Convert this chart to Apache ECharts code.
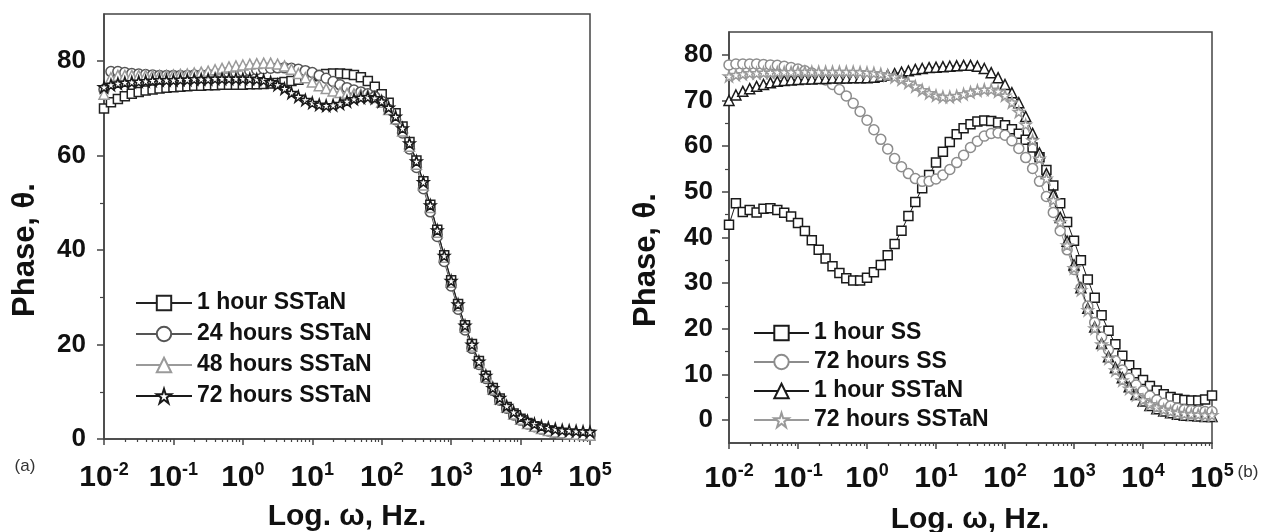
<!DOCTYPE html>
<html>
<head>
<meta charset="utf-8">
<script src="https://cdn.jsdelivr.net/npm/echarts@6/dist/echarts.min.js"></script>
<style>
  html, body { margin: 0; padding: 0; background: #fff; }
  #chart { width: 1267px; height: 532px; }
</style>
</head>
<body>
<div id="chart"></div>
<script>
// frequencies (Hz), 10 points per decade
const freq = [
  0.01, 0.01259, 0.01585, 0.01995, 0.02512, 0.03162, 0.03981, 0.05012, 0.0631, 0.07943,
  0.1, 0.1259, 0.1585, 0.1995, 0.2512, 0.3162, 0.3981, 0.5012, 0.631, 0.7943,
  1, 1.259, 1.585, 1.995, 2.512, 3.162, 3.981, 5.012, 6.31, 7.943,
  10, 12.59, 15.85, 19.95, 25.12, 31.62, 39.81, 50.12, 63.1, 79.43,
  100, 125.9, 158.5, 199.5, 251.2, 316.2, 398.1, 501.2, 631, 794.3,
  1000, 1259, 1585, 1995, 2512, 3162, 3981, 5012, 6310, 7943,
  10000, 12589, 15849, 19953, 25119, 31623, 39811, 50119, 63096, 79433,
  100000
];

// panel (a)
const a_1h = [
  70, 71.3, 72, 72.6, 73.1, 73.5, 73.8, 74, 74.2, 74.4,
  74.5, 74.6, 74.7, 74.8, 74.8, 74.9, 74.9, 75, 75, 75,
  75, 75.1, 75.1, 75.2, 75.3, 75.4, 75.6, 75.8, 76.1, 76.5,
  76.8, 77.1, 77.3, 77.4, 77.4, 77.3, 77.1, 76.6, 75.8, 74.6,
  73, 71.2, 69, 66.2, 62.9, 59, 54.6, 49.6, 44.3, 38.9,
  33.6, 28.6, 24.1, 20.1, 16.5, 13.4, 10.8, 8.6, 6.8, 5.4,
  4.3, 3.4, 2.7, 2.2, 1.8, 1.5, 1.3, 1.1, 1, 0.9,
  0.9
];
const a_24h = [
  74, 77.8, 77.8, 77.6, 77.4, 77.3, 77.2, 77.1, 77, 77,
  77, 77, 77, 77.1, 77.1, 77.2, 77.3, 77.4, 77.5, 77.6,
  77.8, 78, 78.2, 78.4, 78.5, 78.6, 78.6, 78.5, 78.3, 78,
  77.6, 77, 76.4, 75.7, 75, 74.4, 73.9, 73.5, 73.1, 72.5,
  71.5, 69.8, 67.6, 64.8, 61.4, 57.5, 53, 48.1, 42.9, 37.6,
  32.4, 27.5, 23.1, 19.2, 15.8, 12.8, 10.3, 8.2, 6.5, 5.1,
  4, 3.2, 2.6, 2.1, 1.7, 1.4, 1.2, 1.1, 1, 0.9,
  0.9
];
const a_48h = [
  73, 76.5, 77, 77, 77, 77, 77, 77, 77, 77,
  77.1, 77.2, 77.3, 77.5, 77.7, 77.9, 78.2, 78.5, 78.8, 79,
  79.2, 79.4, 79.5, 79.6, 79.6, 79.4, 79, 78.3, 77.4, 76.5,
  75.6, 74.8, 74.2, 73.7, 73.4, 73.2, 73.1, 73, 72.8, 72.3,
  71.3, 69.8, 67.8, 65.2, 62, 58.2, 53.8, 49, 43.8, 38.5,
  33.2, 28.2, 23.7, 19.7, 16.2, 13.2, 10.6, 8.4, 6.7, 5.3,
  4.2, 3.3, 2.7, 2.2, 1.8, 1.5, 1.3, 1.1, 1, 0.9,
  0.8
];
const a_72h = [
  74.5, 75, 75.3, 75.5, 75.6, 75.7, 75.8, 75.9, 76, 76,
  76, 76.1, 76.1, 76.2, 76.2, 76.2, 76.3, 76.3, 76.3, 76.3,
  76.3, 76.3, 76.2, 76, 75.6, 75, 74.2, 73.3, 72.5, 71.8,
  71.2, 70.8, 70.6, 70.7, 71, 71.5, 72, 72.3, 72.4, 72.2,
  71.5, 70.2, 68.3, 65.8, 62.6, 58.8, 54.4, 49.5, 44.2, 38.8,
  33.5, 28.5, 24, 20, 16.4, 13.4, 10.8, 8.7, 7, 5.7,
  4.6, 3.8, 3.2, 2.7, 2.4, 2.1, 1.9, 1.8, 1.7, 1.6,
  1.5
];

// panel (b)
const b_1hSS = [
  42.8, 47.5, 45.6, 46, 45.5, 46.3, 46.4, 46, 45.4, 44.6,
  43.2, 41.4, 39.4, 37.3, 35.4, 33.7, 32.2, 31.1, 30.6, 30.6,
  31.2, 32.4, 34, 36.1, 38.6, 41.5, 44.7, 47.8, 50.8, 53.7,
  56.4, 58.8, 60.9, 62.6, 63.9, 64.8, 65.4, 65.6, 65.5, 65.2,
  64.6, 63.7, 62.7, 61.4, 59.7, 57.6, 54.8, 51.4, 47.5, 43.4,
  39.3, 35, 30.8, 26.8, 23, 19.6, 16.6, 14.1, 12, 10.3,
  8.8, 7.5, 6.5, 5.7, 5.1, 4.7, 4.4, 4.3, 4.3, 4.5,
  5.4
];
const b_72hSS = [
  77.8, 78, 78, 78, 78, 77.9, 77.8, 77.7, 77.5, 77.2,
  76.9, 76.5, 76, 75.3, 74.5, 73.5, 72.4, 71, 69.4, 67.6,
  65.7, 63.6, 61.5, 59.4, 57.3, 55.5, 54, 52.9, 52.3, 52.3,
  52.8, 53.7, 54.9, 56.4, 58, 59.7, 61.1, 62.2, 62.8, 62.9,
  62.4, 61.2, 59.5, 57.5, 55.1, 52.3, 49, 45.5, 41.5, 37.3,
  33, 28.9, 25, 21.4, 18.2, 15.4, 13, 11, 9.2, 7.7,
  6.4, 5.3, 4.4, 3.7, 3.1, 2.6, 2.3, 2.1, 2, 1.9,
  1.9
];
const b_1hTaN = [
  70, 71.2, 72, 72.6, 73.1, 73.5, 73.9, 74.2, 74.4, 74.5,
  74.6, 74.7, 74.7, 74.8, 74.8, 74.9, 74.9, 74.9, 75, 75,
  75, 75.1, 75.3, 75.6, 75.9, 76.2, 76.5, 76.8, 77, 77.2,
  77.3, 77.4, 77.5, 77.6, 77.7, 77.7, 77.5, 77, 76.1, 75,
  73.5, 71.7, 69.5, 66.5, 62.8, 58.5, 54, 49.4, 44.4, 39.2,
  34, 29, 24.5, 20.4, 16.8, 13.9, 11.5, 9.3, 7.3, 5.6,
  4.2, 3.2, 2.5, 2, 1.6, 1.3, 1.1, 1, 0.9, 0.8,
  0.8
];
const b_72hTaN = [
  75.3, 75.6, 75.8, 76, 76, 76.1, 76.1, 76.2, 76.2, 76.2,
  76.3, 76.3, 76.3, 76.3, 76.3, 76.3, 76.3, 76.3, 76.3, 76.2,
  76.1, 76, 75.8, 75.5, 75.1, 74.6, 73.9, 73.1, 72.3, 71.6,
  71.1, 70.8, 70.8, 71, 71.4, 71.8, 72.2, 72.4, 72.4, 72,
  71.1, 69.6, 67.5, 64.7, 61.3, 57.3, 52.9, 48.2, 43.3, 38.3,
  33.3, 28.5, 24.1, 20.1, 16.6, 13.5, 10.9, 8.7, 6.9, 5.5,
  4.4, 3.5, 2.8, 2.3, 1.9, 1.6, 1.4, 1.3, 1.2, 1.1,
  1.1
];

// ticks
const aYTicks = [0, 20, 40, 60, 80];
const aYMinor = [10, 30, 50, 70];
const bYTicks = [0, 10, 20, 30, 40, 50, 60, 70, 80];
const bYMinor = [5, 15, 25, 35, 45, 55, 65, 75];
const decades = [-2, -1, 0, 1, 2, 3, 4];
const minorMult = [2, 3, 4, 5, 6, 7, 8, 9];

const xMinor = [];
decades.forEach(d => minorMult.forEach(m => xMinor.push(d + Math.log10(m))));

const STAR = 'path://M50,2 L61,36 L97,36 L68,57 L79,92 L50,70 L21,92 L32,57 L3,36 L39,36 Z';
const SANS = '"Liberation Sans", Arial, sans-serif';

function pairs(vals) {
  return vals.map((v, i) => [freq[i], v]);
}

function mkSeries(name, vals, grid, symbol, size, color) {
  return {
    name: name,
    type: 'line',
    xAxisIndex: grid * 2,
    yAxisIndex: grid * 2,
    data: pairs(vals),
    symbol: symbol,
    symbolSize: size,
    showAllSymbol: true,
    animation: false,
    itemStyle: { color: '#fff', borderColor: color, borderWidth: 1.5 },
    lineStyle: { color: color, width: 1 },
    emphasis: { disabled: true }
  };
}

function mainX(grid, margin) {
  return {
    type: 'log', gridIndex: grid, position: 'bottom', logBase: 10,
    min: 0.01, max: 100000, interval: 1,
    axisLine: { onZero: false, lineStyle: { color: '#444', width: 1.5 } },
    axisTick: { length: 6, lineStyle: { color: '#444', width: 1.5 } },
    splitLine: { show: false },
    axisLabel: {
      margin: margin,
      formatter: v => '{b|10}{s|' + Math.round(Math.log10(v)) + '}',
      rich: {
        b: { fontFamily: SANS, fontWeight: 'bold', fontSize: 30, color: '#111', lineHeight: 32, verticalAlign: 'bottom' },
        s: { fontFamily: SANS, fontWeight: 'bold', fontSize: 18, color: '#111', lineHeight: 18, verticalAlign: 'top' }
      }
    }
  };
}
function minorX(grid) {
  return {
    type: 'value', gridIndex: grid, position: 'bottom', min: -2, max: 5,
    axisLine: { show: false, onZero: false }, axisLabel: { show: false }, splitLine: { show: false },
    axisTick: { length: 3, customValues: xMinor, lineStyle: { color: '#444', width: 1.2 } }
  };
}
function mainY(grid, min, max, ticks, margin) {
  return {
    type: 'value', gridIndex: grid, position: 'left', min: min, max: max,
    axisLine: { show: true, onZero: false, lineStyle: { color: '#444', width: 1.5 } },
    axisTick: { show: true, length: 7, customValues: ticks, lineStyle: { color: '#444', width: 1.5 } },
    splitLine: { show: false },
    axisLabel: {
      customValues: ticks, margin: margin,
      fontFamily: SANS, fontWeight: 'bold', fontSize: 26, color: '#111'
    }
  };
}
function minorY(grid, min, max, ticks) {
  return {
    type: 'value', gridIndex: grid, position: 'left', min: min, max: max,
    axisLine: { show: false, onZero: false }, axisLabel: { show: false }, splitLine: { show: false },
    axisTick: { show: true, length: 4, customValues: ticks, lineStyle: { color: '#444', width: 1.2 } }
  };
}

const chart = echarts.init(document.getElementById('chart'));
chart.setOption({
  backgroundColor: '#fff',
  animation: false,
  grid: [
    { left: 104, top: 14, width: 486, height: 425, show: true, borderColor: '#444', borderWidth: 1.5 },
    { left: 729, top: 32, width: 483, height: 411, show: true, borderColor: '#444', borderWidth: 1.5 }
  ],
  xAxis: [mainX(0, 22), minorX(0), mainX(1, 19), minorX(1)],
  yAxis: [
    mainY(0, 0, 90, aYTicks, 18), minorY(0, 0, 90, aYMinor),
    mainY(1, -5, 85, bYTicks, 16), minorY(1, -5, 85, bYMinor)
  ],
  legend: [
    {
      left: 135, top: 291, orient: 'vertical', padding: 0,
      itemWidth: 56, itemHeight: 18, itemGap: 7,
      textStyle: { fontFamily: SANS, fontWeight: 'bold', fontSize: 23, lineHeight: 24, color: '#111' },
      data: ['1 hour SSTaN', '24 hours SSTaN', '48 hours SSTaN', '72 hours SSTaN']
    },
    {
      left: 753, top: 321, orient: 'vertical', padding: 0,
      itemWidth: 55, itemHeight: 18, itemGap: 5,
      textStyle: { fontFamily: SANS, fontWeight: 'bold', fontSize: 23, lineHeight: 24, color: '#111' },
      data: ['1 hour SS', '72 hours SS', '1 hour SSTaN ', '72 hours SSTaN ']
    }
  ],
  series: [
    mkSeries('1 hour SSTaN', a_1h, 0, 'rect', 9, '#222'),
    mkSeries('24 hours SSTaN', a_24h, 0, 'circle', 10, '#555'),
    mkSeries('48 hours SSTaN', a_48h, 0, 'triangle', 10, '#9a9a9a'),
    mkSeries('72 hours SSTaN', a_72h, 0, STAR, 11, '#1a1a1a'),
    mkSeries('1 hour SS', b_1hSS, 1, 'rect', 9, '#1a1a1a'),
    mkSeries('72 hours SS', b_72hSS, 1, 'circle', 10, '#8c8c8c'),
    mkSeries('1 hour SSTaN ', b_1hTaN, 1, 'triangle', 10, '#1a1a1a'),
    mkSeries('72 hours SSTaN ', b_72hTaN, 1, STAR, 11, '#9a9a9a')
  ],
  graphic: [
    { type: 'text', x: 347, y: 517, style: { text: 'Log. ω, Hz.', font: 'bold 30px ' + SANS, fill: '#111', align: 'center', verticalAlign: 'middle' } },
    { type: 'text', x: 970, y: 520, style: { text: 'Log. ω, Hz.', font: 'bold 30px ' + SANS, fill: '#111', align: 'center', verticalAlign: 'middle' } },
    { type: 'text', x: 25, y: 250, rotation: Math.PI / 2, style: { text: 'Phase, θ.', font: 'bold 31px ' + SANS, fill: '#111', align: 'center', verticalAlign: 'middle' } },
    { type: 'text', x: 646, y: 260, rotation: Math.PI / 2, style: { text: 'Phase, θ.', font: 'bold 31px ' + SANS, fill: '#111', align: 'center', verticalAlign: 'middle' } },
    { type: 'text', x: 25, y: 466, style: { text: '(a)', font: '17px ' + SANS, fill: '#333', align: 'center', verticalAlign: 'middle' } },
    { type: 'text', x: 1248, y: 472, style: { text: '(b)', font: '17px ' + SANS, fill: '#333', align: 'center', verticalAlign: 'middle' } }
  ]
});
</script>
</body>
</html>
